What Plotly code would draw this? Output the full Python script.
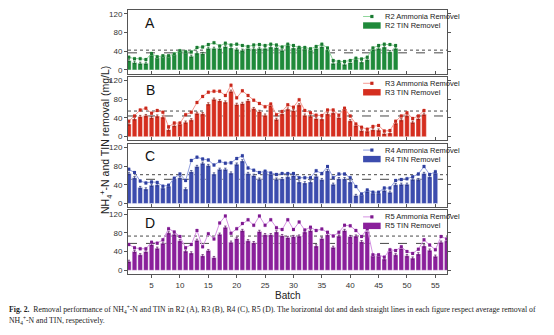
import numpy as np
import plotly.graph_objects as go
from plotly.subplots import make_subplots

# ---- data: removal per batch (mg/L) ----
a_tin = [20, 16, 14, 14, 32, 26, 29, 29, 33, 40, 37, 29, 36, 35, 46, 46, 46, 50, 47, 44,
         42, 46, 45, 46, 46, 49, 48, 42, 52, 47, 48, 45, 43, 46, 50, 43, 14, 16, 12, 16,
         22, 17, 22, 44, 46, 49, 39, 46]
a_nh4 = [27, 24, 24, 22, 35, 28, 30, 30, 34, 41, 39, 38, 48, 49, 54, 58, 51, 57, 53, 55,
         52, 50, 53, 54, 52, 55, 53, 49, 55, 52, 48, 48, 45, 50, 55, 47, 20, 18, 18, 20,
         25, 23, 27, 47, 52, 55, 54, 52]

b_tin = [27, 38, 43, 45, 41, 44, 42, 15, 24, 27, 31, 36, 50, 49, 70, 80, 77, 74, 97, 69,
         71, 77, 60, 54, 46, 67, 37, 49, 59, 56, 68, 46, 44, 39, 38, 49, 51, 41, 59, 34,
         24, 13, 12, 15, 14, 7, 8, 29, 36, 45, 31, 39, 48]
b_nh4 = [33, 44, 57, 61, 50, 56, 52, 21, 29, 29, 47, 52, 73, 86, 95, 97, 97, 88, 110, 83,
         98, 88, 78, 71, 64, 70, 47, 54, 68, 63, 79, 56, 51, 46, 45, 57, 57, 46, 61, 44,
         27, 20, 16, 22, 24, 12, 13, 33, 44, 51, 39, 44, 56]

c_tin = [64, 55, 34, 31, 39, 40, 33, 37, 53, 55, 31, 68, 79, 86, 81, 63, 73, 73, 65, 84,
         91, 64, 60, 52, 68, 63, 52, 53, 57, 60, 46, 44, 46, 58, 51, 70, 41, 53, 53, 46,
         17, 19, 26, 22, 22, 28, 24, 40, 41, 41, 52, 51, 64, 57, 65]
c_nh4 = [73, 66, 48, 44, 46, 45, 37, 39, 54, 63, 49, 92, 99, 95, 93, 82, 90, 86, 87, 96,
         102, 76, 71, 66, 69, 65, 62, 64, 64, 64, 55, 55, 55, 70, 64, 79, 55, 63, 63, 55,
         36, 20, 29, 24, 24, 33, 33, 49, 51, 53, 57, 63, 79, 62, 68]

d_tin = [19, 40, 33, 40, 55, 47, 58, 80, 77, 63, 41, 37, 64, 31, 42, 27, 77, 92, 60, 68,
         85, 63, 59, 83, 76, 76, 82, 74, 70, 72, 73, 82, 85, 52, 68, 76, 49, 73, 85, 72,
         73, 61, 83, 31, 31, 24, 41, 33, 47, 31, 26, 35, 52, 43, 30, 60, 63]
d_nh4 = [55, 48, 46, 46, 60, 58, 65, 89, 82, 72, 48, 55, 85, 50, 78, 67, 101, 116, 79, 89,
         100, 108, 96, 116, 96, 108, 91, 87, 108, 87, 103, 86, 92, 85, 88, 81, 73, 81, 96, 95,
         85, 72, 89, 33, 33, 28, 44, 42, 50, 40, 36, 45, 65, 54, 44, 72, 67]

reactors = ["R2", "R3", "R4", "R5"]
panel_letters = ["A", "B", "C", "D"]
tin_series = [a_tin, b_tin, c_tin, d_tin]
nh4_series = [a_nh4, b_nh4, c_nh4, d_nh4]
tin_err = 2.5
nh4_err = 3.0

y_ticks = [0, 40, 80, 120]
x_ticks = [5, 10, 15, 20, 25, 30, 35, 40, 45, 50, 55]

# ---- styles ----
bar_colors = ["#1f8a3a", "#d52e1f", "#3c4cae", "#8a1f9b"]
bar_err_colors = ["#145c26", "#8c1d13", "#27327a", "#5a1366"]
line_colors = ["#8fd69b", "#f59a92", "#93a0de", "#d592e3"]
mark_colors = ["#1a7a32", "#c8281b", "#2f3f9f", "#7e1a8f"]
FONT = "Liberation Sans, Arial, sans-serif"
AXIS_C = "#555555"

W, H = 554, 335
L, R, T, B = 128, 107, 10, 61
PW, PH = W - L - R, H - T - B

fig = make_subplots(rows=4, cols=1, shared_xaxes=False, vertical_spacing=0.012)

for i in range(4):
    row = i + 1
    tin = tin_series[i]
    nh4 = nh4_series[i]
    batch = list(range(1, len(tin) + 1))
    fig.add_trace(go.Bar(
        x=batch, y=tin, name=f"{reactors[i]} TIN Removel",
        marker=dict(color=bar_colors[i], line=dict(color="white", width=0.4)),
        error_y=dict(type="constant", value=tin_err, color=bar_err_colors[i],
                     thickness=0.7, width=1.2),
        showlegend=False), row=row, col=1)
    fig.add_trace(go.Scatter(
        x=batch, y=nh4, mode="lines+markers", name=f"{reactors[i]} Ammonia Removel",
        line=dict(color=line_colors[i], width=1),
        marker=dict(color=mark_colors[i], size=3, symbol="square"),
        error_y=dict(type="constant", value=nh4_err, color=line_colors[i],
                     thickness=0.7, width=1.2),
        showlegend=False), row=row, col=1)

    yname = "yaxis" if i == 0 else f"yaxis{row}"
    dom0, dom1 = fig.layout[yname].domain
    dh = dom1 - dom0

    def py(frac):
        # fraction of this panel's height -> paper y
        return dom0 + frac * dh

    xref = "x domain" if i == 0 else f"x{row} domain"
    yref = "y domain" if i == 0 else f"y{row} domain"
    yaxis_ref = "y" if i == 0 else f"y{row}"

    # average lines: dotted = ammonia, dashed = TIN
    fig.add_shape(type="line", xref=xref, yref=yaxis_ref, x0=0, x1=1, layer="below",
                  y0=float(np.mean(nh4)), y1=float(np.mean(nh4)),
                  line=dict(color="#333333", width=0.9, dash="dot"))
    fig.add_shape(type="line", xref=xref, yref=yaxis_ref, x0=0, x1=1, layer="below",
                  y0=float(np.mean(tin)), y1=float(np.mean(tin)),
                  line=dict(color="#333333", width=0.9, dash="dash"))

    # panel letter
    fig.add_annotation(xref="paper", yref="paper", x=0.07, y=py(0.80), text=panel_letters[i],
                       showarrow=False, font=dict(family=FONT, size=14, color="#111"),
                       xanchor="center", yanchor="middle")

    # legend block (top right of each panel)
    ph = 1.0 / (PH * dh)
    y1 = 1 - 6.5 * ph
    y2 = 1 - 15.5 * ph
    lx0, lx1 = 0.737, 0.792
    fig.add_shape(type="line", xref=xref, yref=yref, x0=lx0, x1=lx1, y0=y1, y1=y1,
                  line=dict(color=line_colors[i], width=1, dash="dash"))
    mw = 1.6 / PW
    fig.add_shape(type="rect", xref=xref, yref=yref,
                  x0=(lx0 + lx1) / 2 - mw, x1=(lx0 + lx1) / 2 + mw,
                  y0=y1 - 1.6 * ph, y1=y1 + 1.6 * ph,
                  fillcolor=mark_colors[i], line=dict(width=0))
    fig.add_shape(type="rect", xref=xref, yref=yref, x0=lx0, x1=lx1,
                  y0=y2 - 3.2 * ph, y1=y2 + 3.2 * ph,
                  fillcolor=bar_colors[i], line=dict(width=0))
    for yy, txt in ((y1, f"{reactors[i]} Ammonia Removel"), (y2, f"{reactors[i]} TIN Removel")):
        fig.add_annotation(xref="paper", yref="paper", x=lx1 + 0.006, y=py(yy), text=txt,
                           showarrow=False, xanchor="left", yanchor="middle",
                           font=dict(family=FONT, size=7.5, color="#222"))

    fig.update_yaxes(range=[-8, 128], tickvals=y_ticks, ticks="outside", ticklen=3,
                     tickcolor=AXIS_C, showline=True, linecolor=AXIS_C, linewidth=1,
                     mirror="ticks", showgrid=False, zeroline=False,
                     tickfont=dict(family=FONT, size=8, color="#333"),
                     row=row, col=1)
    fig.update_xaxes(range=[0.85, 57.05], tickvals=x_ticks,
                     ticks="outside" if row == 4 else "inside", ticklen=3,
                     tickcolor=AXIS_C, showline=True, linecolor=AXIS_C, linewidth=1,
                     mirror=True, showgrid=False, zeroline=False,
                     showticklabels=(row == 4),
                     tickfont=dict(family=FONT, size=8, color="#333"),
                     row=row, col=1)

# shared axis titles
fig.add_annotation(xref="paper", yref="paper", x=(106 - L) / PW, y=(H - B - 140) / PH,
                   text="NH<sub>4</sub><sup>+</sup>-N and TIN removal (mg/L)",
                   textangle=-90, showarrow=False, xanchor="center", yanchor="middle",
                   font=dict(family=FONT, size=10.5, color="#222"))
fig.add_annotation(xref="paper", yref="paper", x=0.5, y=(H - B - 295) / PH, text="Batch",
                   showarrow=False, xanchor="center", yanchor="middle",
                   font=dict(family=FONT, size=10, color="#222"))

# figure caption
SERIF = "Liberation Serif, Times New Roman, serif"
fig.add_annotation(xref="paper", yref="paper", x=(7 - L) / PW, y=(H - B - 309) / PH,
                   text="<b>Fig. 2.</b>  Removal performance of NH<sub>4</sub><sup>+</sup>-N and TIN in "
                        "R2 (A), R3 (B), R4 (C), R5 (D). The horizontal dot and dash straight lines "
                        "in each figure respect average removal of",
                   showarrow=False, xanchor="left", yanchor="middle",
                   font=dict(family=SERIF, size=7.75, color="#222"))
fig.add_annotation(xref="paper", yref="paper", x=(7 - L) / PW, y=(H - B - 320) / PH,
                   text="NH<sub>4</sub><sup>+</sup>-N and TIN, respectively.",
                   showarrow=False, xanchor="left", yanchor="middle",
                   font=dict(family=SERIF, size=7.75, color="#222"))

fig.update_layout(width=W, height=H, margin=dict(l=L, r=R, t=T, b=B),
                  paper_bgcolor="white", plot_bgcolor="white",
                  bargap=0.18, showlegend=False)

fig.write_html("out.html")
